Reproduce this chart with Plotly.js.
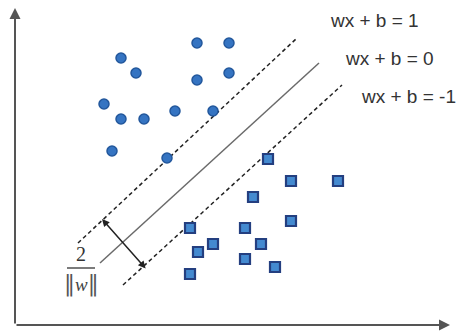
<!DOCTYPE html>
<html>
<head>
<meta charset="utf-8">
<script src="https://cdn.plot.ly/plotly-3.0.1.min.js"></script>
<style>html,body{margin:0;padding:0;background:#fff;}#chart{width:464px;height:332px;}</style>
</head>
<body>
<div id="chart"></div>
<script>
// Class +1 (circles)
const circleX = [182, 214, 106, 121, 182, 214, 89, 106, 129, 160, 198, 97, 152];
const circleY = [282, 282, 267, 252, 245, 252, 221, 206, 206, 214, 214, 174, 167];
// Class -1 (squares)
const squareX = [253, 276, 323, 238, 276, 175, 230, 198, 246, 183, 230, 260, 175];
const squareY = [166, 144, 144, 128, 104, 97, 97, 81, 81, 73, 66, 58, 51];
// Hyperplanes (end points)
const upperMarginX = [63, 282];
const upperMarginY = [82, 287];
const hyperplaneX = [85, 304];
const hyperplaneY = [62, 262];
const lowerMarginX = [108, 327];
const lowerMarginY = [40, 240];
// Margin width arrow
const marginArrowX = [87, 132];
const marginArrowY = [106, 55];
// Axes
const axisOrigin = [0, 0];
const xAxisEnd = 435;
const yAxisEnd = 317;
// Labels
const labelTexts = ["wx + b = 1", "wx + b = 0", "wx + b = -1"];
const labelX = [313, 328, 344];
const labelY = [305, 267, 229];
const fracNum = "2";
const fracNorm = "‖";
const fracVar = "w";
const fracX = 66;
const fracNumY = 71;
const fracBarX = [52, 80];
const fracBarY = [57, 57];
const fracDenY = 41;

const dashStyle = {color: '#222', width: 1.5, dash: '4px,3px'};
const traces = [
  {x: upperMarginX, y: upperMarginY, mode: 'lines', line: dashStyle, hoverinfo: 'skip'},
  {x: hyperplaneX, y: hyperplaneY, mode: 'lines', line: {color: '#6a6a6a', width: 1.5}, hoverinfo: 'skip'},
  {x: lowerMarginX, y: lowerMarginY, mode: 'lines', line: dashStyle, hoverinfo: 'skip'},
  {x: fracBarX, y: fracBarY, mode: 'lines', line: {color: '#333', width: 1.3}, hoverinfo: 'skip'},
  {x: circleX, y: circleY, mode: 'markers',
   marker: {symbol: 'circle', size: 10, color: '#3574c2', line: {color: '#22579c', width: 1.5}}},
  {x: squareX, y: squareY, mode: 'markers',
   marker: {symbol: 'square', size: 10, color: '#448ad0', line: {color: '#243f80', width: 2.2}}}
];

const barSpan = '<span style="font-family:DejaVu Serif;font-size:22px;color:#555">' + fracNorm + '</span>';
const denText = barSpan + '<i>' + fracVar + '</i>' + barSpan;

const annotations = [
  {x: xAxisEnd, y: axisOrigin[1], ax: axisOrigin[0], ay: axisOrigin[1], xref: 'x', yref: 'y', axref: 'x', ayref: 'y',
   text: '', showarrow: true, arrowhead: 2, arrowsize: 1.1, arrowwidth: 2, arrowcolor: '#555', standoff: 0},
  {x: axisOrigin[0], y: yAxisEnd, ax: axisOrigin[0], ay: axisOrigin[1], xref: 'x', yref: 'y', axref: 'x', ayref: 'y',
   text: '', showarrow: true, arrowhead: 2, arrowsize: 1.1, arrowwidth: 2, arrowcolor: '#555', standoff: 0},
  {x: marginArrowX[0], y: marginArrowY[0], ax: marginArrowX[1], ay: marginArrowY[1], xref: 'x', yref: 'y', axref: 'x', ayref: 'y',
   text: '', showarrow: true, arrowhead: 2, startarrowhead: 2, arrowside: 'end+start', arrowsize: 1, startarrowsize: 1, arrowwidth: 1.5, arrowcolor: '#222', standoff: 0, startstandoff: 0},
  {x: fracX, y: fracNumY, xref: 'x', yref: 'y', text: fracNum, showarrow: false, font: {family: 'Liberation Serif', size: 20, color: '#333'}},
  {x: fracX, y: fracDenY, xref: 'x', yref: 'y', text: denText, showarrow: false, font: {family: 'Liberation Serif', size: 19, color: '#444'}}
];
labelTexts.forEach((t, i) => annotations.push({
  x: labelX[i], y: labelY[i], xref: 'x', yref: 'y', text: t, showarrow: false, xanchor: 'left', yanchor: 'middle',
  font: {family: 'Liberation Sans, Arial, sans-serif', size: 19, color: '#333'}
}));

const layout = {
  width: 464, height: 332,
  margin: {l: 0, r: 0, t: 0, b: 0},
  paper_bgcolor: '#fff', plot_bgcolor: '#fff',
  showlegend: false,
  xaxis: {range: [-15, 449], visible: false, fixedrange: true},
  yaxis: {range: [-7, 325], visible: false, fixedrange: true},
  annotations: annotations
};
Plotly.newPlot('chart', traces, layout, {staticPlot: true, displayModeBar: false});
</script>
</body>
</html>
